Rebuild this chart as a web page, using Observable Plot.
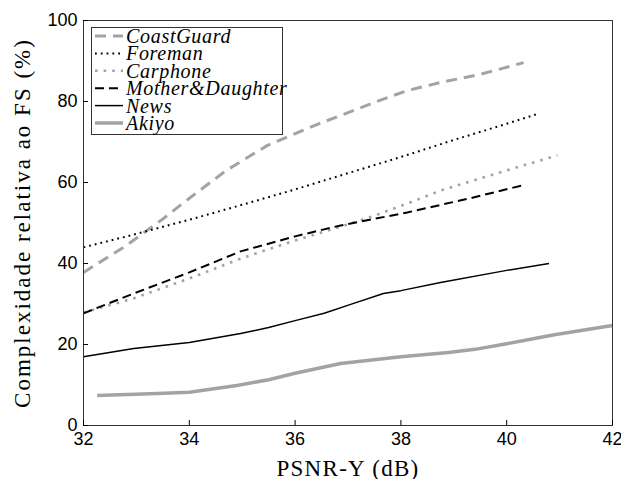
<!DOCTYPE html>
<html><head><meta charset="utf-8">
<script src="https://cdn.jsdelivr.net/npm/d3@7"></script>
<script src="https://cdn.jsdelivr.net/npm/@observablehq/plot@0.6"></script>
<style>
body{margin:0;background:#fff}
.serif, .serif text {font-family: "Liberation Serif", "Times New Roman", serif !important;}
.sans text {font-family: "Liberation Sans", Arial, sans-serif !important;}
</style>
</head><body><div id="chart"></div>
<script>
// ---- data ----
const seriesNames = ["CoastGuard", "Foreman", "Carphone", "Mother&Daughter", "News", "Akiyo"];

const coastGuardX = [32, 32.76, 33.46, 34.02, 34.7, 35.47, 36.35, 37.05, 37.5, 38.12, 38.75, 39.5, 40.32];
const coastGuardY = [37.8, 44, 50.6, 56.3, 63, 69.1, 74, 77.5, 79.8, 82.7, 84.7, 86.7, 89.6];

const foremanX = [32, 33, 34, 35, 36, 37, 38, 39, 40, 40.55];
const foremanY = [44, 47.3, 50.8, 54.5, 58.3, 62.3, 66.3, 70.5, 74.5, 76.8];

const carphoneX = [32, 32.95, 34, 34.97, 36, 36.86, 37.5, 38.12, 38.75, 39.37, 40, 40.96];
const carphoneY = [27.9, 31.4, 36.3, 41.2, 45.7, 49.1, 51.8, 54.8, 58, 60.5, 63, 66.7];

const motherDaughterX = [32, 32.95, 34, 34.97, 36, 36.86, 38.12, 39.37, 40.3];
const motherDaughterY = [27.7, 32.6, 37.8, 43, 46.7, 49.4, 52.6, 56.3, 59.3];

const newsX = [32, 32.95, 34, 34.97, 35.5, 36, 36.55, 37.05, 37.67, 38, 38.75, 40, 40.8];
const newsY = [17, 19, 20.5, 22.7, 24.2, 25.9, 27.7, 29.9, 32.6, 33.3, 35.3, 38.3, 40];

const akiyoX = [32.26, 33.4, 34, 34.9, 35.5, 36, 36.86, 38, 38.9, 39.4, 40, 40.9, 42];
const akiyoY = [7.4, 7.9, 8.2, 9.9, 11.3, 12.9, 15.3, 17, 18, 18.8, 20.2, 22.4, 24.7];

const xTicks = [32, 34, 36, 38, 40, 42];
const yTicks = [0, 20, 40, 60, 80, 100];
const xLabel = "PSNR-Y (dB)";
const yLabel = "Complexidade relativa ao FS (%)";

// ---- build ----
const GRAY = "#a0a4a6";
const styles = [
  {stroke: GRAY, strokeWidth: 3, strokeDasharray: "11,7"},
  {stroke: "#000", strokeWidth: 2, strokeDasharray: "1.8,4"},
  {stroke: GRAY, strokeWidth: 2.6, strokeDasharray: "2.6,6"},
  {stroke: "#000", strokeWidth: 2, strokeDasharray: "9,5"},
  {stroke: "#000", strokeWidth: 1.5},
  {stroke: GRAY, strokeWidth: 3.5}
];
const xs = [coastGuardX, foremanX, carphoneX, motherDaughterX, newsX, akiyoX];
const ys = [coastGuardY, foremanY, carphoneY, motherDaughterY, newsY, akiyoY];
const tables = xs.map((X, i) => X.map((x, j) => ({x, y: ys[i][j], s: seriesNames[i]})));

const plot = Plot.plot({
  width: 621, height: 479,
  marginLeft: 83, marginRight: 9, marginTop: 20, marginBottom: 54,
  style: {fontSize: "18px", color: "#000", background: "#fff"},
  x: {domain: [32, 42]},
  y: {domain: [0, 100]},
  marks: [
    ...tables.map((t, i) => Plot.line(t, {x: "x", y: "y", strokeLinecap: "butt", strokeLinejoin: "round", ...styles[i]})),
    Plot.frame({stroke: "#333", strokeWidth: 1}),
    Plot.axisX({ticks: xTicks, tickSize: -5, tickPadding: 12, label: null, fontSize: 18, className: "sans"}),
    Plot.axisY({ticks: yTicks, tickSize: -5, tickPadding: 11, label: null, fontSize: 18, className: "sans"}),
    Plot.text([xLabel], {frameAnchor: "bottom", dy: 50, lineAnchor: "bottom", fontSize: 23, className: "serif xlab"}),
    Plot.text([yLabel], {frameAnchor: "left", dx: -61, rotate: -90, textAnchor: "middle", fontSize: 23, className: "serif ylab"})
  ]
});
document.getElementById("chart").appendChild(plot);
d3.select(plot).selectAll(".xlab text").style("letter-spacing", "1.3px");
d3.select(plot).selectAll(".ylab text").style("letter-spacing", "2px");

// ---- legend (inside plot) ----
const svg = d3.select(plot);
const lg = svg.append("g").attr("text-anchor", "start").attr("class", "serif");
lg.append("rect").attr("x", 91.5).attr("y", 27.5).attr("width", 191).attr("height", 107)
  .attr("fill", "#fff").attr("stroke", "#333").attr("stroke-width", 1);
seriesNames.forEach((name, i) => {
  const yy = 36 + i * 17.4;
  const st = styles[i];
  lg.append("line").attr("x1", 95).attr("x2", 123).attr("y1", yy).attr("y2", yy)
    .attr("stroke", st.stroke).attr("stroke-width", st.strokeWidth)
    .attr("stroke-dasharray", st.strokeDasharray || null);
  lg.append("text").attr("x", 126).attr("y", yy).attr("dy", "0.35em")
    .attr("text-anchor", "start")
    .attr("font-style", "italic").attr("font-size", 20).attr("fill", "#000")
    .style("letter-spacing", "0.7px")
    .text(name);
});
</script>
</body></html>
